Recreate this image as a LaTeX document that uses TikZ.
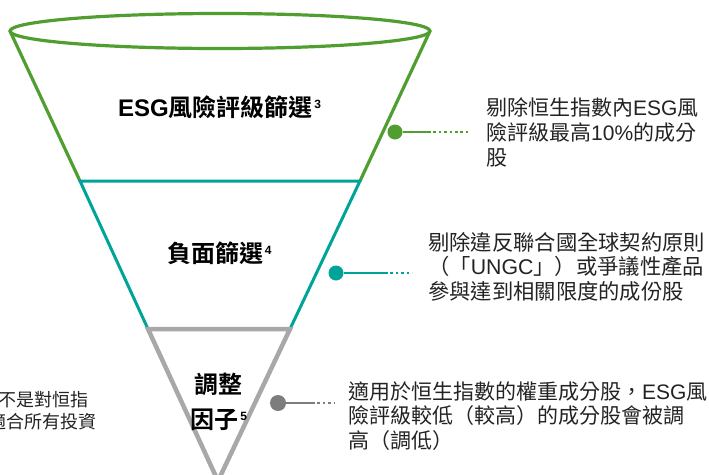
\documentclass[tikz,border=0pt]{standalone}
\usepackage{fontspec}
\setmainfont{Noto Sans CJK TC}[BoldFont={Noto Sans CJK TC Bold}]
\newfontfamily\lat{Liberation Sans}
\definecolor{gcol}{RGB}{80,158,47}
\definecolor{tcol}{RGB}{0,163,152}
\definecolor{gycol}{RGB}{168,168,168}
\definecolor{gydot}{RGB}{125,125,125}
\definecolor{txt}{RGB}{35,35,35}
\tikzset{
  desc/.style={font=\fontsize{21}{25}\selectfont, inner sep=0pt, anchor=base west, text=txt},
  descw/.style={font=\fontsize{21.3}{25}\selectfont, inner sep=0pt, anchor=base west, text=txt},
  descs/.style={font=\fontsize{18}{22}\selectfont, inner sep=0pt, anchor=base west, text=txt},
  lbl/.style={font=\fontsize{24}{30}\selectfont\bfseries, inner sep=0pt, anchor=base, text=black},
  hub/.style={circle, fill=#1, draw=none, minimum size=15pt, inner sep=0pt},
  cline/.style={line width=2pt, draw=#1},
  cdot/.style={line width=2pt, draw=#1, dash pattern=on 2.6pt off 2.8pt},
  gline/.style={line width=3.2pt, draw=gcol},
  tline/.style={line width=3pt, draw=tcol},
  gyline/.style={line width=4.5pt, draw=gycol},
}
\newcommand{\supnum}[1]{\hspace{1.5pt}\raisebox{8pt}{\fontsize{12}{12}\selectfont\lat #1}}
\begin{document}
\begin{tikzpicture}[x=1pt,y=-1pt]
\useasboundingbox (0,0) rectangle (709,474);
% funnel
\draw[gline] (10,31) -- (80,181);
\draw[gline] (430,31) -- (360,181);
\draw[gline] (220,31) ellipse [x radius=210, y radius=17.5];
\draw[tline] (148,329) -- (80,181) -- (360,181) -- (290,329);
\draw[gyline, line join=miter] (218,481) -- (148,329) -- (290,329) -- cycle;
% labels
\node[lbl] (l1) at (219.5,116.3) {{\lat ESG}風險評級篩選\supnum{3}};
\node[lbl] (l2) at (219.5,262) {負面篩選\supnum{4}};
\node[lbl] (l3a) at (218,393.5) {調整};
\node[lbl] (l3b) at (219,428) {因子\supnum{5}};
% connectors
\node[hub=gcol] (h1) at (395,132) {};
\coordinate (h1a) at (428,132);
\coordinate (h1b) at (468,132);
\draw[cline=gcol] (h1) -- (h1a);
\draw[cdot=gcol] (h1a) -- (h1b);
\node[hub=tcol] (h2) at (336,273) {};
\coordinate (h2a) at (385,273);
\coordinate (h2b) at (412,273);
\draw[cline=tcol] (h2) -- (h2a);
\draw[cdot=tcol] (h2a) -- (h2b);
\node[hub=gydot, minimum size=16pt] (h3) at (278,403) {};
\coordinate (h3a) at (312,403);
\coordinate (h3b) at (334,403);
\draw[cline=gydot] (h3) -- (h3a);
\draw[cdot=gydot] (h3a) -- (h3b);
% description texts
\node[desc] (t1a) at (486,115.5) {剔除恒生指數內{\lat ESG}風};
\node[desc] (t1b) at (486,140.5) {險評級最高{\lat 10\%}的成分};
\node[desc] (t1c) at (486,165.5) {股};
\node[descw] (t2a) at (428,250) {剔除違反聯合國全球契約原則};
\node[descw] (t2b) at (428,274.5) {（「{\lat UNGC}」）或爭議性產品};
\node[descw] (t2c) at (428,299) {參與達到相關限度的成份股};
\node[desc] (t3a) at (348,399) {適用於恒生指數的權重成分股，{\lat ESG}風};
\node[desc] (t3b) at (348,423.5) {險評級較低（較高）的成分股會被調};
\node[desc] (t3c) at (348,448.5) {高（調低）};
\node[descs] (t4a) at (-2,406) {不是對恒指};
\node[descs] (t4b) at (-12,428) {適合所有投資};
\end{tikzpicture}
\end{document}
